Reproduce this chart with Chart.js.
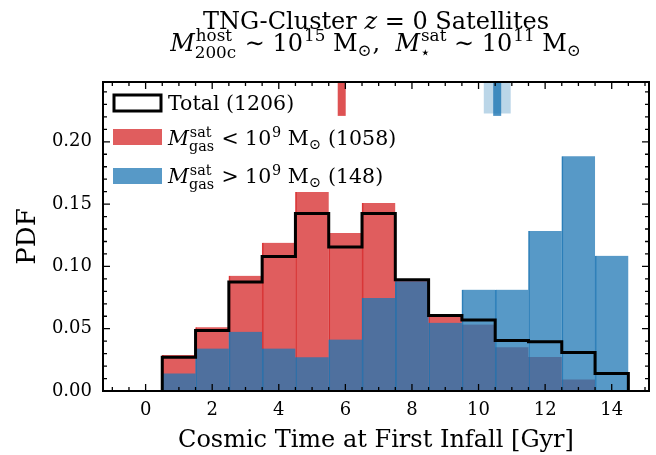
<!DOCTYPE html>
<html>
<head>
<meta charset="utf-8">
<script src="https://cdn.jsdelivr.net/npm/chart.js@4.4.0/dist/chart.umd.min.js"></script>
<style>
  html, body { margin: 0; padding: 0; background: #fff; }
</style>
</head>
<body>
<canvas id="infall" width="656" height="455"></canvas>
<script>
// histogram bins (1 Gyr wide, centred on whole Gyr)
const binCenters = [1, 2, 3, 4, 5, 6, 7, 8, 9, 10, 11, 12, 13, 14];
const binWidth = 1;

// normalised histograms (PDF) of cosmic time at first infall
const pdfTotal   = [0.027, 0.0485, 0.0875, 0.108, 0.1425, 0.1155, 0.1425, 0.0893, 0.0605, 0.057, 0.0405, 0.0395, 0.031, 0.0141];
const pdfGasPoor = [0.0288, 0.0512, 0.0925, 0.1189, 0.1597, 0.1269, 0.1509, 0.089, 0.06, 0.0533, 0.0352, 0.0272, 0.0093, 0];
const pdfGasRich = [0.0141, 0.0341, 0.0475, 0.0341, 0.027, 0.0413, 0.0747, 0.088, 0.0547, 0.0813, 0.0813, 0.1285, 0.1885, 0.1085];

const countTotal = 1206;
const countGasPoor = 1058;
const countGasRich = 148;

// medians (and spread for the gas-rich sample), shown as markers at the top
const medianGasPoor = 5.89;
const medianGasRich = 10.56;
const spreadGasRich = [10.15, 10.97];
const markerBottomPoor = 0.2208;
const markerBottomRich = 0.2228;

const xTicks = [0, 2, 4, 6, 8, 10, 12, 14];
const yTicks = [0, 0.05, 0.10, 0.15, 0.20];
const xRange = [-1.28, 15.12];
const yRange = [0, 0.248];

const RED = 'rgba(214, 39, 40, 0.75)';
const BLUE = 'rgba(31, 119, 180, 0.75)';
const SERIF = '"DejaVu Serif", "Liberation Serif", serif';

Chart.defaults.font.family = SERIF;
Chart.defaults.color = '#000';

// step outline for the total histogram
const totalStep = [{ x: binCenters[0] - binWidth / 2, y: 0 }];
binCenters.forEach((c, i) => totalStep.push({ x: c - binWidth / 2, y: pdfTotal[i] }));
totalStep.push({ x: binCenters[binCenters.length - 1] + binWidth / 2, y: 0 });

// --- little helper for text with super/subscripts ---
function fontStr(size, italic) {
  return (italic ? 'italic ' : '') + size + 'px ' + SERIF;
}
function runWidth(ctx, r, size) {
  if (typeof r === 'string') { ctx.font = fontStr(size); return ctx.measureText(r).width; }
  if (r.it) { ctx.font = fontStr(size, true); return ctx.measureText(r.it).width; }
  ctx.font = fontStr(size * 0.7);
  const a = r.sup ? ctx.measureText(r.sup).width : 0;
  const b = r.sub ? ctx.measureText(r.sub).width : 0;
  return Math.max(a, b) + size * 0.04;
}
function drawRuns(ctx, runs, x, y, size, align) {
  let w = 0;
  runs.forEach(r => { w += runWidth(ctx, r, size); });
  let cx = align === 'center' ? x - w / 2 : x;
  ctx.textAlign = 'left';
  ctx.textBaseline = 'alphabetic';
  ctx.fillStyle = '#000';
  runs.forEach(r => {
    const rw = runWidth(ctx, r, size);
    if (typeof r === 'string') {
      ctx.font = fontStr(size);
      ctx.fillText(r, cx, y);
    } else if (r.it) {
      ctx.font = fontStr(size, true);
      ctx.fillText(r.it, cx, y);
    } else {
      ctx.font = fontStr(size * 0.7);
      if (r.sup) ctx.fillText(r.sup, cx + size * 0.04, y - size * 0.4);
      if (r.sub) ctx.fillText(r.sub, cx, y + size * (r.sup ? 0.3 : 0.2));
    }
    cx += rw;
  });
}

// frame with inward ticks on all four sides
const frameTicks = {
  id: 'frameTicks',
  afterDatasetsDraw(chart) {
    const { ctx, chartArea: a, scales: { x, y } } = chart;
    ctx.save();
    ctx.strokeStyle = '#000';
    ctx.lineWidth = 1.3;
    ctx.beginPath();
    for (let v = -1; v <= 15.001; v += 0.5) {
      const px = x.getPixelForValue(v);
      if (px < a.left || px > a.right) continue;
      const len = Math.abs(v % 2) < 1e-6 ? 7 : 4;
      ctx.moveTo(px, a.bottom); ctx.lineTo(px, a.bottom - len);
      ctx.moveTo(px, a.top); ctx.lineTo(px, a.top + len);
    }
    for (let k = 0; k <= 24; k++) {
      const py = y.getPixelForValue(k * 0.01);
      const len = k % 5 === 0 ? 7 : 4;
      ctx.moveTo(a.left, py); ctx.lineTo(a.left + len, py);
      ctx.moveTo(a.right, py); ctx.lineTo(a.right - len, py);
    }
    ctx.stroke();
    ctx.lineWidth = 2;
    ctx.strokeRect(a.left, a.top, a.right - a.left, a.bottom - a.top);
    ctx.restore();
  }
};

// title and legend
const annotations = {
  id: 'annotations',
  afterDraw(chart) {
    const { ctx, chartArea: a } = chart;
    const cx = (a.left + a.right) / 2;
    ctx.save();
    drawRuns(ctx, ['TNG-Cluster ', { it: 'z' }, ' = 0 Satellites'], cx, 29, 24, 'center');
    drawRuns(ctx, [{ it: 'M' }, { sup: 'host', sub: '200c' }, ' \u223C 10', { sup: '15' }, ' M', { sub: '\u2299' },
      ',  ', { it: 'M' }, { sup: 'sat', sub: '\u22C6' }, ' \u223C 10', { sup: '11' }, ' M', { sub: '\u2299' }],
      cx, 51, 24, 'center');

    const hx = a.left + 11, hw = 47, hh = 16, tx = a.left + 65;
    ctx.lineWidth = 3;
    ctx.strokeStyle = '#000';
    ctx.strokeRect(hx, 95, hw, hh);
    drawRuns(ctx, ['Total (' + countTotal + ')'], tx, 110, 20.5, 'left');

    ctx.fillStyle = RED;
    ctx.fillRect(hx - 1, 129, hw + 2, hh);
    drawRuns(ctx, [{ it: 'M' }, { sup: 'sat', sub: 'gas' }, ' < 10', { sup: '9' }, ' M', { sub: '\u2299' },
      ' (' + countGasPoor + ')'], tx, 145, 20.5, 'left');

    ctx.fillStyle = BLUE;
    ctx.fillRect(hx - 1, 168, hw + 2, hh);
    drawRuns(ctx, [{ it: 'M' }, { sup: 'sat', sub: 'gas' }, ' > 10', { sup: '9' }, ' M', { sub: '\u2299' },
      ' (' + countGasRich + ')'], tx, 183, 20.5, 'left');
    ctx.restore();
  }
};

new Chart(document.getElementById('infall'), {
  type: 'bar',
  data: {
    datasets: [
      {
        type: 'line',
        data: totalStep,
        stepped: 'before',
        borderColor: '#000',
        borderWidth: 3,
        pointRadius: 0,
        fill: false,
        order: 0
      },
      {
        data: binCenters.map((c, i) => ({ x: c, y: pdfGasRich[i] })),
        backgroundColor: BLUE,
        borderColor: 'rgba(31, 119, 180, 0.9)',
        borderWidth: { left: 1, right: 0, top: 0, bottom: 0 },
        borderSkipped: false,
        grouped: false,
        barPercentage: 1,
        categoryPercentage: 1,
        order: 1
      },
      {
        data: binCenters.map((c, i) => ({ x: c, y: pdfGasPoor[i] })),
        backgroundColor: RED,
        borderColor: 'rgba(214, 39, 40, 0.9)',
        borderWidth: { left: 1, right: 0, top: 0, bottom: 0 },
        borderSkipped: false,
        grouped: false,
        barPercentage: 1,
        categoryPercentage: 1,
        order: 2
      },
      {
        type: 'line',
        data: [{ x: medianGasPoor, y: markerBottomPoor }, { x: medianGasPoor, y: yRange[1] + 0.01 }],
        borderColor: 'rgba(214, 39, 40, 0.8)',
        borderWidth: 8,
        borderCapStyle: 'butt',
        pointRadius: 0,
        clip: 0,
        order: 3
      },
      {
        type: 'line',
        data: [{ x: medianGasRich, y: markerBottomPoor }, { x: medianGasRich, y: yRange[1] + 0.01 }],
        borderColor: 'rgba(31, 119, 180, 0.8)',
        borderWidth: 8,
        borderCapStyle: 'butt',
        pointRadius: 0,
        clip: 0,
        order: 4
      },
      {
        type: 'line',
        data: [{ x: spreadGasRich[0], y: markerBottomRich }, { x: spreadGasRich[1], y: markerBottomRich }],
        borderWidth: 0,
        backgroundColor: 'rgba(31, 119, 180, 0.3)',
        fill: { value: 0.3 },
        pointRadius: 0,
        clip: 0,
        order: 5
      }
    ]
  },
  options: {
    responsive: false,
    animation: false,
    devicePixelRatio: 1,
    layout: { padding: { top: 82, right: 7, left: 0, bottom: 0 } },
    plugins: { legend: { display: false }, tooltip: { enabled: false } },
    scales: {
      x: {
        type: 'linear',
        min: xRange[0],
        max: xRange[1],
        offset: false,
        grid: { display: false, drawTicks: false },
        border: { display: false },
        afterBuildTicks: s => { s.ticks = xTicks.map(v => ({ value: v })); },
        afterFit: s => { s.height = 64; },
        ticks: { padding: 9, font: { size: 18 }, callback: v => String(v) },
        title: {
          display: true,
          text: 'Cosmic Time at First Infall [Gyr]',
          font: { size: 24, lineHeight: 1 },
          padding: { top: 0, bottom: 2 }
        }
      },
      y: {
        type: 'linear',
        min: yRange[0],
        max: yRange[1],
        grid: { display: false, drawTicks: false },
        border: { display: false },
        afterBuildTicks: s => { s.ticks = yTicks.map(v => ({ value: v })); },
        afterFit: s => { s.width = 103; },
        ticks: { padding: 11, font: { size: 18 }, callback: v => v.toFixed(2) },
        title: {
          display: true,
          text: 'PDF',
          font: { size: 26, lineHeight: 1 },
          padding: { top: 15, bottom: 0 }
        }
      }
    }
  },
  plugins: [frameTicks, annotations]
});
</script>
</body>
</html>
